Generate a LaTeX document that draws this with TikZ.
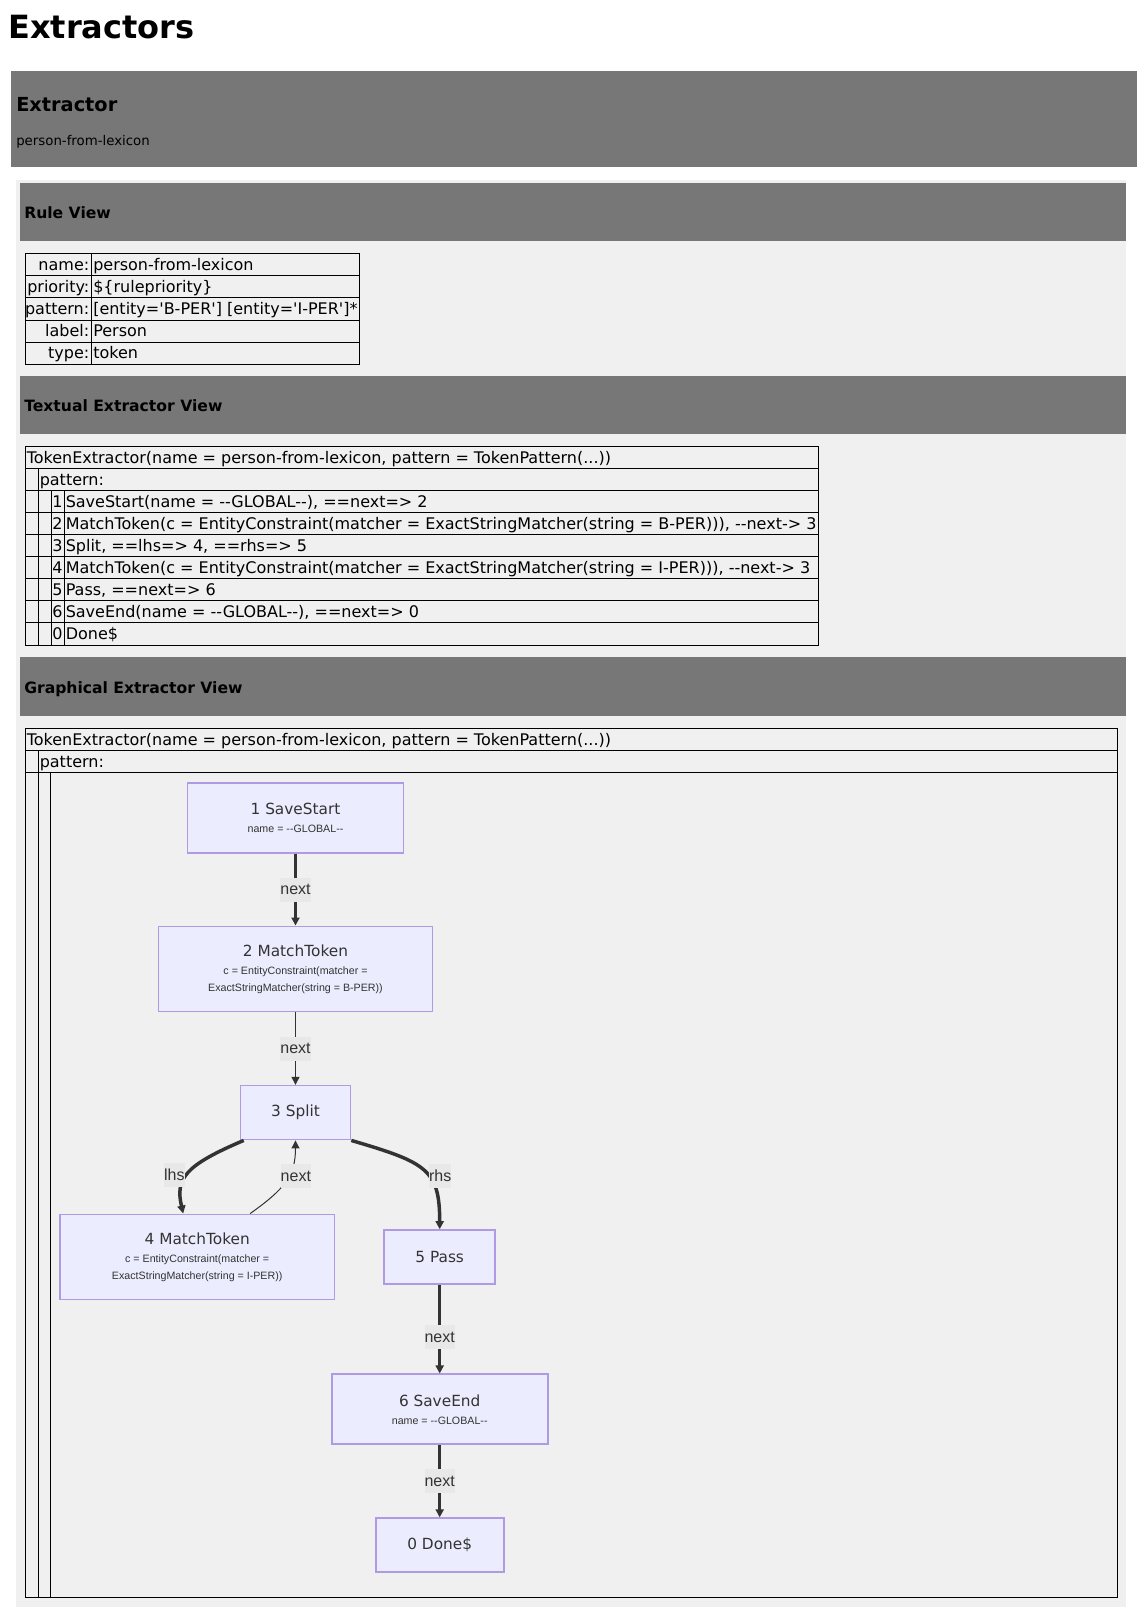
\documentclass[tikz,border=0pt]{standalone}
\usepackage{fontspec}
\usetikzlibrary{positioning, arrows.meta}

\newfontfamily\dvs{DejaVu Sans}
\newfontfamily\lbs{Liberation Sans}

\definecolor{hdrgray}{HTML}{777777}
\definecolor{panelgray}{HTML}{F0F0F0}
\definecolor{opfill}{HTML}{ECECFF}
\definecolor{opline}{HTML}{B09AE4}
\definecolor{ink}{HTML}{333333}
\definecolor{lblbg}{HTML}{E8E8E8}

\newcommand{\optitle}[1]{{\dvs\fontsize{11.5}{12.5}\selectfont #1}}

\begin{document}
\begin{tikzpicture}[x=0.75pt, y=-0.75pt]
        \tikzset{
            >={Triangle[length=6pt, width=6pt]}, % arrow heads of the graph
            cell/.style={inner sep=0pt, font=\dvs\fontsize{12}{14}\selectfont}, % text in the tables
            hdr/.style={inner sep=0pt, anchor=base west, font=\dvs\bfseries\fontsize{11.7}{14}\selectfont}, % section headers
            grid/.style={line width=0.65pt}, % table rules
            opbox/.style={draw=opline, fill=opfill, line width=1.2pt, inner sep=2pt, align=center, text=ink, font=\lbs\fontsize{8}{12.5}\selectfont},
            elabel/.style={fill=lblbg, text=ink, inner xsep=0pt, inner ysep=0pt, minimum height=18pt, font=\lbs\fontsize{12}{14}\selectfont},
            strong link/.style={->, draw=ink, line width=2.6pt},
            weak link/.style={->, draw=ink, line width=0.75pt},
            }
        \useasboundingbox (0,0) rectangle (1141,1614);

        % page title and extractor box
        \node[anchor=base west, inner sep=0pt, font=\dvs\bfseries\fontsize{24}{28}\selectfont] (page_title) at (8,38) {Extractors};
        \fill[hdrgray] (11,71) rectangle (1137,167);
        \node[hdr, font=\dvs\bfseries\fontsize{14.5}{17}\selectfont] (extr_title) at (16,111) {Extractor};
        \node[anchor=base west, inner sep=0pt, font=\dvs\fontsize{10}{12}\selectfont] (extr_name) at (16,145.5) {person-from-lexicon};
        \fill[panelgray] (16,180) rectangle (1126,1607);

        % rule view
        \fill[hdrgray] (20,183) rectangle (1126,241);
        \node[hdr] (rule_hdr) at (24,218) {Rule View};
        \draw[grid] (25,253) rectangle (359,364);
        \foreach \y in {275,297,320,342} \draw[grid] (25,\y) -- (359,\y);
        \draw[grid] (91,253) -- (91,364);
        \foreach \key/\val [count=\i from 0] in {name/person-from-lexicon, priority/{\$\{rulepriority\}}, pattern/{[entity='B-PER'] [entity='I-PER']*}, label/Person, type/token} {
            \node[cell, anchor=base east] (rule_key\i) at (89.5, 270+22.2*\i) {\key:};
            \node[cell, anchor=base west] (rule_val\i) at (93, 270+22.2*\i) {\val};
        }

        % textual extractor view
        \fill[hdrgray] (20,376) rectangle (1126,434);
        \node[hdr] (text_hdr) at (24,411) {Textual Extractor View};
        \draw[grid] (25,446) rectangle (818,645);
        \foreach \k in {1,...,8} \draw[grid] (25,446+22.1*\k) -- (818,446+22.1*\k);
        \draw[grid] (38,468) -- (38,645);
        \draw[grid] (51,490) -- (51,645);
        \draw[grid] (64,490) -- (64,645);
        \node[cell, anchor=base west] (text_top) at (26.5,463) {TokenExtractor(name = person-from-lexicon, pattern = TokenPattern(...))};
        \node[cell, anchor=base west] (text_pat) at (39.5,485) {pattern:};
        \foreach \rnum/\rtxt [count=\i from 0] in {
            1/{SaveStart(name = --GLOBAL--), ==next=> 2},
            2/{MatchToken(c = EntityConstraint(matcher = ExactStringMatcher(string = B-PER))), --next-> 3},
            3/{Split, ==lhs=> 4, ==rhs=> 5},
            4/{MatchToken(c = EntityConstraint(matcher = ExactStringMatcher(string = I-PER))), --next-> 3},
            5/{Pass, ==next=> 6},
            6/{SaveEnd(name = --GLOBAL--), ==next=> 0},
            0/{Done\$}} {
            \node[cell, anchor=base] (text_num\i) at (57.5, 507.2+22.1*\i) {\rnum};
            \node[cell, anchor=base west] (text_op\i) at (65.5, 507.2+22.1*\i) {\rtxt};
        }

        % graphical extractor view
        \fill[hdrgray] (20,657) rectangle (1126,716);
        \node[hdr] (graph_hdr) at (24,693) {Graphical Extractor View};
        \draw[grid] (25,728) rectangle (1117,1597);
        \draw[grid] (25,750) -- (1117,750);
        \draw[grid] (25,772) -- (1117,772);
        \draw[grid] (38,750) -- (38,1597);
        \draw[grid] (50.5,772) -- (50.5,1597);
        \node[cell, anchor=base west] (graph_top) at (26.5,745) {TokenExtractor(name = person-from-lexicon, pattern = TokenPattern(...))};
        \node[cell, anchor=base west] (graph_pat) at (39.5,767) {pattern:};

        % nodes
        \node[opbox, minimum width=162pt, minimum height=52.5pt] (op1) at (295.5,817.7) {\optitle{1 SaveStart}\\[1pt] name = --GLOBAL--};
        \node[opbox, minimum width=205.5pt, minimum height=64pt, below=54pt of op1] (op2) {\optitle{2 MatchToken}\\[1pt] c = EntityConstraint(matcher =\\ ExactStringMatcher(string = B-PER))};
        \node[opbox, minimum width=82.5pt, minimum height=40.5pt, below=54.3pt of op2] (op3) {\optitle{3 Split}};
        \node[opbox, minimum width=206pt, minimum height=64pt] (op4) at (197.2,1257) {\optitle{4 MatchToken}\\[1pt] c = EntityConstraint(matcher =\\ ExactStringMatcher(string = I-PER))};
        \node[opbox, minimum width=83.3pt, minimum height=40.5pt] (op5) at (439.7,1257) {\optitle{5 Pass}};
        \node[opbox, minimum width=162pt, minimum height=52.5pt, below=66.5pt of op5] (op6) {\optitle{6 SaveEnd}\\[1pt] name = --GLOBAL--};
        \node[opbox, minimum width=96pt, minimum height=40.5pt, below=54.2pt of op6] (op0) {\optitle{0 Done\$}};

        % straight paths
        \path (op1) edge[strong link] node[elabel] (lbl12) {next} (op2);
        \path (op2) edge[weak link] node[elabel] (lbl23) {next} (op3);
        \path (op5) edge[strong link] node[elabel, pos=0.59] (lbl56) {next} (op6);
        \path (op6) edge[strong link] node[elabel] (lbl60) {next} (op0);

        % split paths
        \draw[strong link] ([xshift=3pt]op3.south west) .. controls +(-59,25) and +(-8,-35) .. node[elabel, pos=0.5, xshift=-10.5pt, yshift=-1.5pt] (lbl34) {lhs} ([xshift=-10.5pt]op4.north);
        \draw[weak link] ([xshift=39.75pt]op4.north) .. controls +(35,-25) and +(0,35) .. node[elabel, pos=0.5, xshift=7.4pt, yshift=3.5pt] (lbl43) {next} (op3.south);
        \draw[strong link] (op3.south east) .. controls +(75,22) and +(0,-60) .. node[elabel, pos=0.6, xshift=7.5pt, yshift=2pt] (lbl35) {rhs} (op5.north);
\end{tikzpicture}
\end{document}
